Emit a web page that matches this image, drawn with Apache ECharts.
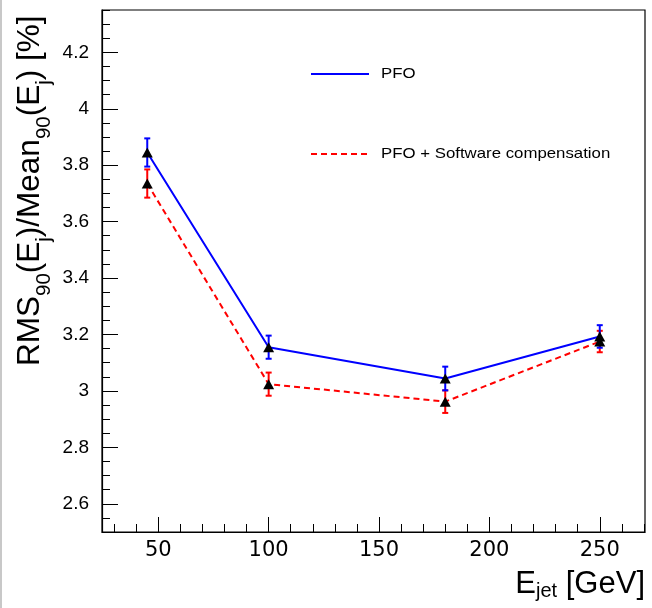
<!DOCTYPE html>
<html>
<head>
<meta charset="utf-8">
<script src="https://cdn.jsdelivr.net/npm/echarts@6/dist/echarts.min.js"></script>
<style>
html,body{margin:0;padding:0;background:#fff;}
#chart{width:652px;height:608px;}
</style>
</head>
<body>
<div id="chart"></div>
<script>
// ---- data ----
const energies = [45, 100, 180, 250];
const pfoValues = [3.845, 3.155, 3.044, 3.193];
const pfoErrors = [0.050, 0.041, 0.042, 0.040];
const scValues = [3.735, 3.024, 2.962, 3.175];
const scErrors = [0.050, 0.041, 0.040, 0.038];
const xMajorTicks = [50, 100, 150, 200, 250];
const xMinorTicks = [30, 40, 60, 70, 80, 90, 110, 120, 130, 140, 160, 170, 180, 190, 210, 220, 230, 240, 260, 270];
const yMajorTicks = [2.6, 2.8, 3.0, 3.2, 3.4, 3.6, 3.8, 4.0, 4.2];
const yMinorTicks = [2.5, 2.55, 2.65, 2.7, 2.75, 2.85, 2.9, 2.95, 3.05, 3.1, 3.15, 3.25, 3.3, 3.35,
  3.45, 3.5, 3.55, 3.65, 3.7, 3.75, 3.85, 3.9, 3.95, 4.05, 4.1, 4.15, 4.25, 4.3, 4.35];
const legendNames = ['PFO', 'PFO + Software compensation'];

const X_MIN = 24.5, X_MAX = 270.5, Y_MIN = 2.5, Y_MAX = 4.35;
const FONT = '"Liberation Sans", Arial, Helvetica, sans-serif';
const WIDE_FONT = '"DejaVu Sans", "Liberation Sans", sans-serif';

const pfoData = energies.map((x, i) => [x, pfoValues[i]]);
const scData = energies.map((x, i) => [x, scValues[i]]);
const pfoErrData = energies.map((x, i) => [x, pfoValues[i] - pfoErrors[i], pfoValues[i] + pfoErrors[i]]);
const scErrData = energies.map((x, i) => [x, scValues[i] - scErrors[i], scValues[i] + scErrors[i]]);

function errorBar(color) {
  return function (params, api) {
    const x = api.value(0);
    const lo = api.coord([x, api.value(1)]);
    const hi = api.coord([x, api.value(2)]);
    const cap = 3;
    const style = { stroke: color, lineWidth: 2 };
    return {
      type: 'group',
      children: [
        { type: 'line', shape: { x1: lo[0], y1: lo[1], x2: hi[0], y2: hi[1] }, style },
        { type: 'line', shape: { x1: lo[0] - cap, y1: lo[1], x2: lo[0] + cap, y2: lo[1] }, style },
        { type: 'line', shape: { x1: hi[0] - cap, y1: hi[1], x2: hi[0] + cap, y2: hi[1] }, style }
      ]
    };
  };
}

const chart = echarts.init(document.getElementById('chart'), null, { renderer: 'canvas' });

const axisBase = { type: 'value', min: X_MIN, max: X_MAX, splitLine: { show: false } };

const option = {
  animation: false,
  backgroundColor: '#ffffff',
  grid: { left: 102, right: 7, top: 10, bottom: 76, show: true, borderColor: '#000', borderWidth: 1.2, backgroundColor: 'transparent' },
  xAxis: [
    Object.assign({}, axisBase, {
      position: 'bottom',
      axisLine: { show: true, lineStyle: { color: '#000', width: 1.2 } },
      axisTick: { show: true, inside: true, length: 15, customValues: xMajorTicks, lineStyle: { color: '#000', width: 1 } },
      axisLabel: { show: true, customValues: xMajorTicks, color: '#000', fontSize: 21, fontFamily: WIDE_FONT, margin: 8 }
    }),
    Object.assign({}, axisBase, {
      position: 'bottom',
      axisLine: { show: false },
      axisTick: { show: true, inside: true, length: 8, customValues: xMinorTicks, lineStyle: { color: '#000', width: 1 } },
      axisLabel: { show: false }
    })
  ],
  yAxis: [
    {
      type: 'value', min: Y_MIN, max: Y_MAX, position: 'left', splitLine: { show: false },
      axisLine: { show: true, lineStyle: { color: '#000', width: 1.2 } },
      axisTick: { show: true, inside: true, length: 16, customValues: yMajorTicks, lineStyle: { color: '#000', width: 1 } },
      axisLabel: { show: true, customValues: yMajorTicks, color: '#000', fontSize: 19, fontFamily: FONT, margin: 13,
        formatter: v => String(Math.round(v * 10) / 10) }
    },
    {
      type: 'value', min: Y_MIN, max: Y_MAX, position: 'left', splitLine: { show: false },
      axisLine: { show: false },
      axisTick: { show: true, inside: true, length: 8, customValues: yMinorTicks, lineStyle: { color: '#000', width: 1 } },
      axisLabel: { show: false }
    }
  ],
  series: [
    { name: legendNames[1], type: 'line', data: scData, symbol: 'none', z: 2,
      lineStyle: { color: '#ff0000', width: 2, type: [6, 4] } },
    { name: legendNames[0], type: 'line', data: pfoData, symbol: 'none', z: 2,
      lineStyle: { color: '#0000ff', width: 2 } },
    { type: 'custom', data: scErrData, renderItem: errorBar('#ff0000'), z: 3, encode: { x: 0, y: [1, 2] } },
    { type: 'custom', data: pfoErrData, renderItem: errorBar('#0000ff'), z: 3, encode: { x: 0, y: [1, 2] } },
    { type: 'scatter', data: pfoData, symbol: 'triangle', symbolSize: [11, 10], z: 4, itemStyle: { color: '#000', opacity: 1 } },
    { type: 'scatter', data: scData, symbol: 'triangle', symbolSize: [11, 10], z: 4, itemStyle: { color: '#000', opacity: 1 } }
  ],
  graphic: [
    { type: 'rect', left: 0, top: 0, shape: { width: 2, height: 608 }, style: { fill: '#c8c8c8' }, silent: true },
    // legend
    { type: 'line', shape: { x1: 311, y1: 74, x2: 369, y2: 74 }, style: { stroke: '#0000ff', lineWidth: 2 } },
    { type: 'text', x: 381, y: 74, scaleX: 1.12, style: { text: legendNames[0], font: '15px ' + FONT, fill: '#000', textVerticalAlign: 'middle' } },
    { type: 'line', shape: { x1: 311, y1: 154, x2: 369, y2: 154 }, style: { stroke: '#ff0000', lineWidth: 2, lineDash: [6, 4] } },
    { type: 'text', x: 381, y: 154, scaleX: 1.12, style: { text: legendNames[1], font: '15px ' + FONT, fill: '#000', textVerticalAlign: 'middle' } },
    // y axis title
    { type: 'text', x: 37, y: 366, rotation: Math.PI / 2,
      style: {
        text: '{m|RMS}{s|90}{m|(E}{s|j}{m|)/Mean}{s|90}{m|(E}{s|j}{m|) [%]}',
        textAlign: 'left', textVerticalAlign: 'middle', fill: '#000',
        rich: {
          m: { fontSize: 31.5, fontFamily: FONT, fill: '#000', height: 36, verticalAlign: 'top', padding: [0, 0, 0, 0] },
          s: { fontSize: 20.5, fontFamily: FONT, fill: '#000', height: 36, padding: [14, 0, 0, 0] }
        }
      } },
    // x axis title
    { type: 'text', x: 645, y: 584,
      style: {
        text: '{m|E}{s|jet}{m| [GeV]}',
        textAlign: 'right', textVerticalAlign: 'middle', fill: '#000',
        rich: {
          m: { fontSize: 31, fontFamily: FONT, fill: '#000', height: 36 },
          s: { fontSize: 20, fontFamily: FONT, fill: '#000', height: 36, padding: [14, 0, 0, 0] }
        }
      } }
  ]
};
chart.setOption(option);
</script>
</body>
</html>
